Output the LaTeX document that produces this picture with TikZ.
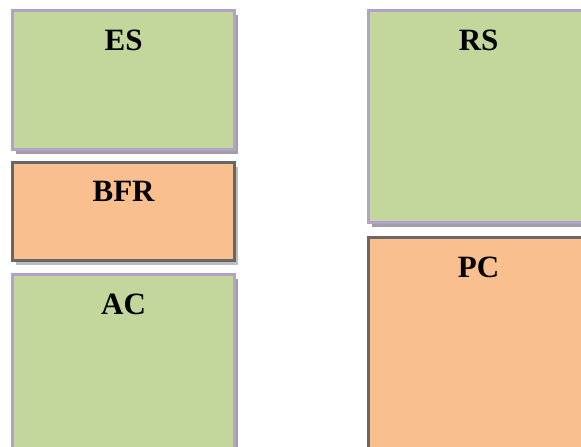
\documentclass[tikz,border=0pt]{standalone}
\usepackage{fontspec}
\setmainfont{Liberation Serif}
\usepackage{tikz}
\usetikzlibrary{shadows,positioning}

\definecolor{boxgreen}{HTML}{C3D69B}
\definecolor{boxorange}{HTML}{F9BF8E}
\definecolor{lavline}{HTML}{B3A2C7}
\definecolor{lavshadow}{HTML}{A39BA8}
\definecolor{greyline}{HTML}{676767}
\definecolor{greyshadow}{HTML}{BDBDBD}

\begin{document}
\begin{tikzpicture}[x=1pt, y=-1pt,
    greenbox/.style={draw=lavline, line width=2.6pt, fill=boxgreen, anchor=north west,
        drop shadow={shadow xshift=3pt, shadow yshift=-4pt, fill=lavshadow, opacity=1}},
    orangebox/.style={draw=greyline, line width=2.6pt, fill=boxorange, anchor=north west,
        drop shadow={shadow xshift=3pt, shadow yshift=-4pt, fill=greyshadow, opacity=1}},
    title/.style={anchor=north, inner sep=0pt, yshift=-20pt,
        font=\fontsize{31}{31}\selectfont\bfseries}]

    % -------------------------------------------------------
    % 1. Frame of the picture
    % -------------------------------------------------------
    \useasboundingbox (0,0) rectangle (581,447);
    \clip (0,0) rectangle (581,447);

    % -------------------------------------------------------
    % 2. Left column
    % -------------------------------------------------------
    \def\lwidth{222pt}
    \node[greenbox, minimum width=\lwidth, minimum height=139pt] (es) at (11.3,9.3) {};
    \node[title] (es-t) at (es.north) {ES};

    \node[orangebox, minimum width=\lwidth, minimum height=98pt] (bfr) at (11.3,161.3) {};
    \node[title] (bfr-t) at (bfr.north) {BFR};

    \node[greenbox, minimum width=\lwidth, minimum height=190pt] (ac) at (11.3,273.3) {};
    \node[title] (ac-t) at (ac.north) {AC};

    % -------------------------------------------------------
    % 3. Right column (cut by the right edge)
    % -------------------------------------------------------
    \def\rwidth{220pt}
    \node[greenbox, minimum width=\rwidth, minimum height=212pt] (rs) at (367.3,9.3) {};
    \node[title] (rs-t) at (rs.north) {RS};

    \node[orangebox, minimum width=\rwidth, minimum height=230pt] (pc) at (367.3,236.3) {};
    \node[title] (pc-t) at (pc.north) {PC};
\end{tikzpicture}
\end{document}
